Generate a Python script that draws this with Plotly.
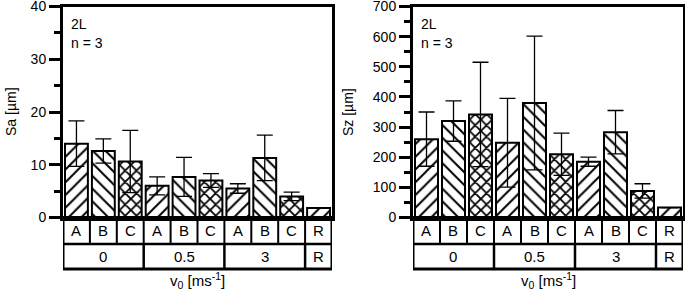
import plotly.graph_objects as go

# ---- data ----
labels = ["A", "B", "C", "A", "B", "C", "A", "B", "C", "R"]
group_names = ["0", "0.5", "3", "R"]
group_sizes = [3, 3, 3, 1]
sa_mean = [14.0, 12.6, 10.6, 6.0, 7.7, 7.0, 5.5, 11.3, 4.0, 1.8]
sa_err = [4.3, 2.3, 5.9, 1.7, 3.7, 1.3, 0.9, 4.3, 0.8, None]
sz_mean = [260, 320, 342, 248, 380, 210, 185, 283, 88, 33]
sz_err = [90, 67, 173, 147, 222, 70, 15, 72, 24, None]
pattern_of = {"A": "/", "B": "\\", "C": "x", "R": "/"}
solidity_of = {"A": 0.22, "B": 0.22, "C": 0.4, "R": 0.22}
psize_of = {"A": 9, "B": 9, "C": 8, "R": 9}

W, H = 685, 292
FONT = "Liberation Sans, Arial, sans-serif"

def px_x(p):
    return p / W

def px_y(p):
    return (H - p) / H

y_plot_bot = px_y(217.5)
y_plot_top = px_y(6.5)
y_mid = px_y(244)
y_bot = px_y(269)

panels = [
    dict(xa="x", ya="y", mean=sa_mean, err=sa_err, dom=(63, 332), rng=[0, 40],
         dtick=10, minor=5, title="Sa [µm]", tx=11),
    dict(xa="x2", ya="y2", mean=sz_mean, err=sz_err, dom=(413, 683), rng=[0, 700],
         dtick=100, minor=50, title="Sz [µm]", tx=348),
]

fig = go.Figure()
xpos = list(range(len(labels)))
shapes = []
annotations = []
layout = {}

def txt(**kw):
    d = dict(showarrow=False, xanchor="center", yanchor="middle",
             font=dict(family=FONT, size=15, color="black"))
    d.update(kw)
    return d

for k, p in enumerate(panels):
    valid_err = [e if e is not None else float("nan") for e in p["err"]]
    fig.add_trace(go.Bar(
        x=xpos, y=p["mean"], xaxis=p["xa"], yaxis=p["ya"],
        marker=dict(color="white", line=dict(color="black", width=2),
                    pattern=dict(shape=[pattern_of[l] for l in labels],
                                 fgcolor="black", bgcolor="white",
                                 size=[psize_of[l] for l in labels],
                                 solidity=[solidity_of[l] for l in labels],
                                 fillmode="replace")),
        error_y=dict(type="data", array=valid_err, symmetric=True,
                     color="black", thickness=1.3, width=8),
        showlegend=False,
    ))
    sfx = "" if k == 0 else str(k + 1)
    layout["xaxis" + sfx] = dict(
        domain=[px_x(p["dom"][0]), px_x(p["dom"][1])], range=[-0.5, len(labels) - 0.5],
        showticklabels=False, ticks="", showline=True, mirror=True, linewidth=3,
        linecolor="black", showgrid=False, zeroline=False, fixedrange=True,
        anchor=p["ya"], automargin=False,
    )
    layout["yaxis" + sfx] = dict(
        domain=[y_plot_bot, y_plot_top], range=p["rng"], dtick=p["dtick"],
        ticks="outside", ticklen=11, tickwidth=3, tickcolor="black",
        showline=True, mirror=True, linewidth=3, linecolor="black",
        showgrid=False, zeroline=False, anchor=p["xa"], automargin=False,
        ticklabeloverflow="allow",
        tickfont=dict(family=FONT, size=14, color="black"),
        minor=dict(ticks="outside", ticklen=6, tickwidth=2.5, dtick=p["minor"],
                   tickcolor="black", showgrid=False),
    )
    xa = p["xa"]
    # box region
    shapes.append(dict(type="rect", xref=xa, yref="paper", x0=-0.5, x1=len(labels) - 0.5,
                       y0=y_bot, y1=y_plot_bot, line=dict(color="black", width=3)))
    shapes.append(dict(type="line", xref=xa, yref="paper", x0=-0.5, x1=len(labels) - 0.5,
                       y0=y_mid, y1=y_mid, line=dict(color="black", width=2.5)))
    for i in range(len(labels) - 1):
        shapes.append(dict(type="line", xref=xa, yref="paper", x0=i + 0.5, x1=i + 0.5,
                           y0=y_mid, y1=y_plot_bot, line=dict(color="black", width=2)))
    for i, l in enumerate(labels):
        annotations.append(txt(x=i, y=(y_mid + y_plot_bot) / 2, xref=xa, yref="paper", text=l))
    start = 0
    for g, n in zip(group_names, group_sizes):
        end = start + n
        annotations.append(txt(x=(start + end - 1) / 2, y=(y_bot + y_mid) / 2, xref=xa,
                               yref="paper", text=g))
        if end < len(labels):
            shapes.append(dict(type="line", xref=xa, yref="paper", x0=end - 0.5, x1=end - 0.5,
                               y0=y_bot, y1=y_mid, line=dict(color="black", width=2.5)))
        start = end
    # texts
    x0px = p["dom"][0] + 6
    annotations.append(txt(x=px_x(x0px), y=px_y(24), xref="paper", yref="paper",
                           text="2L", xanchor="left",
                           font=dict(family=FONT, size=14, color="black")))
    annotations.append(txt(x=px_x(x0px), y=px_y(43), xref="paper", yref="paper",
                           text="n = 3", xanchor="left",
                           font=dict(family=FONT, size=14, color="black")))
    annotations.append(txt(x=px_x(p["tx"]), y=px_y(112), xref="paper", yref="paper",
                           text=p["title"], textangle=-90,
                           font=dict(family=FONT, size=14, color="black")))
    annotations.append(txt(x=px_x((p["dom"][0] + p["dom"][1]) / 2), y=px_y(280),
                           xref="paper", yref="paper",
                           text="v<sub>0</sub> [ms<sup>-1</sup>]"))

fig.update_layout(
    width=W, height=H, margin=dict(l=0, r=0, t=0, b=0),
    paper_bgcolor="white", plot_bgcolor="white", bargap=0.15,
    shapes=shapes, annotations=annotations, **layout,
)
fig.write_html("out.html", config={"displayModeBar": False},
               post_script="document.body.style.margin='0';document.body.style.overflow='hidden';")
